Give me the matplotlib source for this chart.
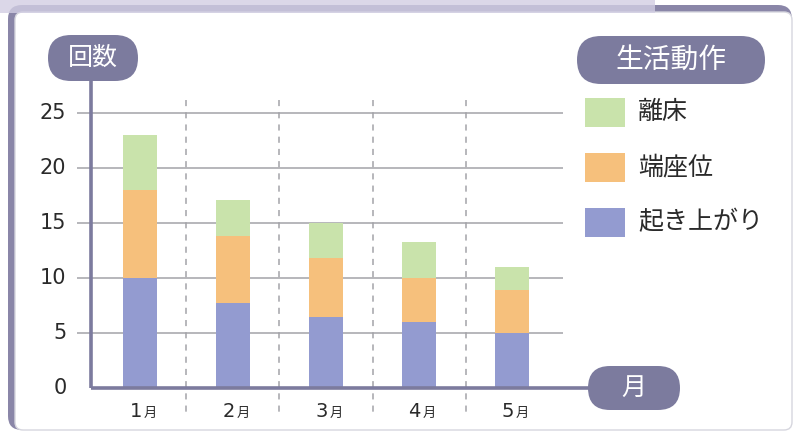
import matplotlib
matplotlib.use("Agg")
import matplotlib.pyplot as plt
from matplotlib.patches import FancyBboxPatch, Rectangle
from matplotlib.transforms import Affine2D
import numpy as np

plt.rcParams['font.family'] = ['Noto Sans CJK JP', 'DejaVu Sans']

# 月ごとの生活動作の回数
months = ["1", "2", "3", "4", "5"]
okiagari = [10, 7.7, 6.5, 6.0, 5.0]     # 起き上がり
tanzai = [8.0, 6.1, 5.3, 4.0, 3.9]      # 端座位
risho = [5.0, 3.3, 3.2, 3.3, 2.1]       # 離床
series_names = ["離床", "端座位", "起き上がり"]
yticks = [0, 5, 10, 15, 20, 25]

c_blue = "#939bd0"
c_orange = "#f6c07c"
c_green = "#c9e3ab"
c_pill = "#7c7b9e"
c_grid = "#a3a3a8"
c_text = "#2a2a2a"
num_font = ["DejaVu Sans"]

W, H = 794, 433
fig = plt.figure(figsize=(W / 100, H / 100), dpi=100)
# ピクセル座標(左上原点)で描くための変換
px = Affine2D().scale(0.01, -0.01).translate(0, H / 100) + fig.dpi_scale_trans

# 外枠
fig.patches.append(FancyBboxPatch((8, 5), 784, 425, boxstyle="round,pad=0,rounding_size=14",
                                  transform=px, facecolor="#8a86a8", edgecolor="none", zorder=0))
fig.patches.append(FancyBboxPatch((15, 12), 777, 418, boxstyle="round,pad=0,rounding_size=8",
                                  transform=px, facecolor="white", edgecolor="#d6d6de", lw=1, zorder=0.1))
fig.patches.append(Rectangle((0, 0), 655, 13, transform=px, facecolor="#d2cee3",
                             edgecolor="none", alpha=0.8, zorder=0.2))

ax = fig.add_axes([77 / W, 1 - 388 / H, (563 - 77) / W, (388 - 100) / H], zorder=2)
x = np.arange(len(months))
ax.set_xlim(-0.677, 4.548)
ax.set_ylim(0, 26.2)
ax.axis("off")

for v in yticks[1:]:
    ax.axhline(v, color=c_grid, lw=1.1, zorder=1)
for s in x[:-1] + 0.5:
    ax.plot([s, s], [26.2, -2.6], color=c_grid, lw=1.1, ls=(0, (4, 4)), clip_on=False, zorder=1)

bw = 0.37
ax.bar(x, okiagari, bw, color=c_blue, zorder=2)
ax.bar(x, tanzai, bw, bottom=okiagari, color=c_orange, zorder=2)
ax.bar(x, risho, bw, bottom=np.add(okiagari, tanzai), color=c_green, zorder=2)

# 軸線
yax = -0.527
ax.plot([yax, yax], [0, 28.0], color=c_pill, lw=2.6, clip_on=False, zorder=3, solid_capstyle="butt")
ax.plot([yax, 5.0], [0, 0], color=c_pill, lw=2.6, clip_on=False, zorder=3, solid_capstyle="butt")

for v in yticks:
    ax.text(-0.79, v, str(v), ha="right", va="center", fontsize=15, color=c_text, family=num_font)
for xi, m in zip(x, months):
    ax.text(xi + 0.02, -2.6, m, ha="right", va="baseline", fontsize=14, color=c_text, family=num_font)
    ax.text(xi + 0.04, -2.6, "月", ha="left", va="baseline", fontsize=9.5, color=c_text)


def pill(x0, y0, w, h, label, size):
    fig.patches.append(FancyBboxPatch((x0, y0), w, h, boxstyle="round,pad=0,rounding_size=%f" % (h / 2),
                                      transform=px, facecolor=c_pill, edgecolor="none", zorder=4))
    fig.text(x0 + w / 2, y0 + h / 2, label, transform=px, ha="center", va="center",
             color="white", fontsize=size, zorder=5)


pill(48, 35, 90, 46, "回数", 18)
pill(588, 366, 92, 44, "月", 18)
pill(577, 36, 188, 48, "生活動作", 20)

# 凡例
for (ytop, name, col) in zip([98, 153, 208], series_names, [c_green, c_orange, c_blue]):
    fig.patches.append(Rectangle((585, ytop), 40, 29, transform=px, facecolor=col, edgecolor="none", zorder=4))
    fig.text(638, ytop + 14, name, transform=px, ha="left", va="center", fontsize=18, color=c_text, zorder=5)

fig.savefig("out.png", dpi=100)
